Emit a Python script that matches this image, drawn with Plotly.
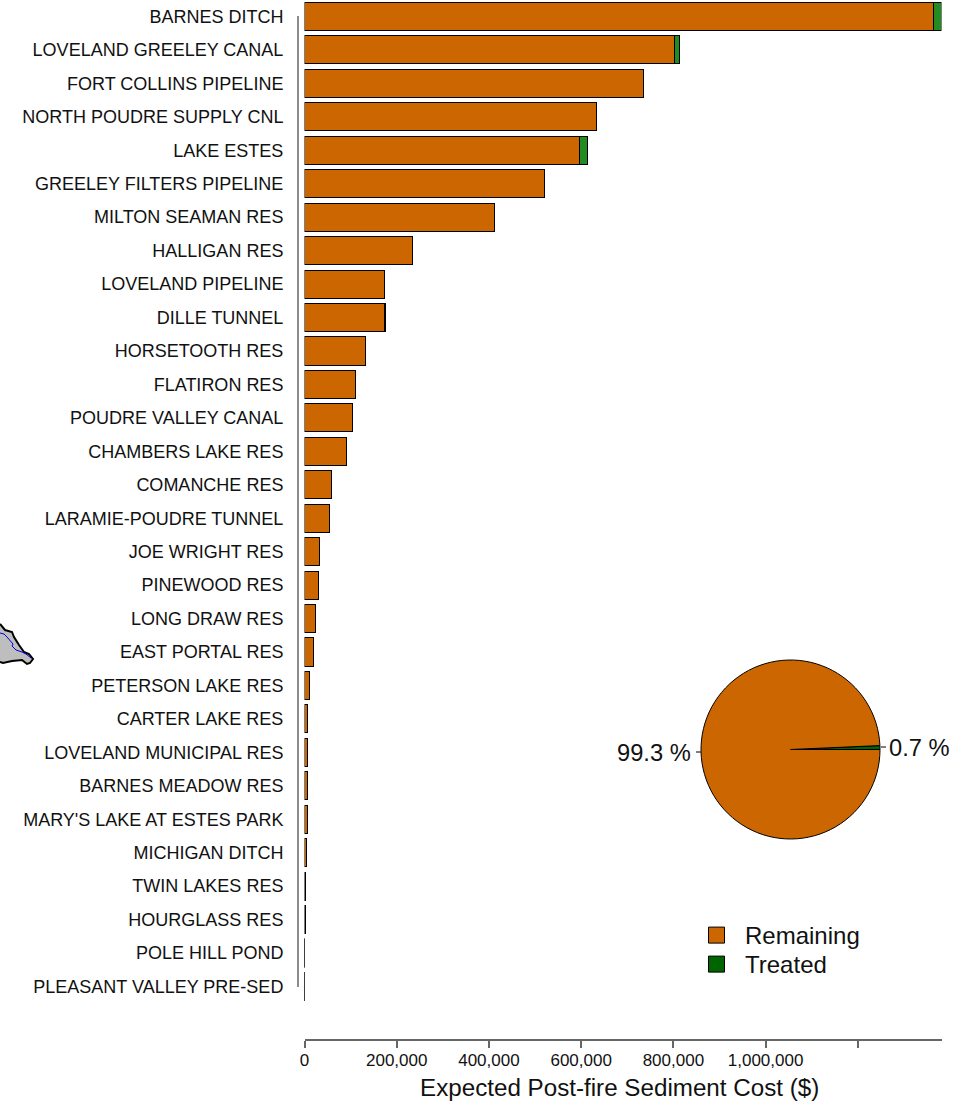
import plotly.graph_objects as go

W, H = 969, 1102
FONT = "Liberation Sans"

categories = ["BARNES DITCH", "LOVELAND GREELEY CANAL", "FORT COLLINS PIPELINE", "NORTH POUDRE SUPPLY CNL",
              "LAKE ESTES", "GREELEY FILTERS PIPELINE", "MILTON SEAMAN RES", "HALLIGAN RES", "LOVELAND PIPELINE",
              "DILLE TUNNEL", "HORSETOOTH RES", "FLATIRON RES", "POUDRE VALLEY CANAL", "CHAMBERS LAKE RES",
              "COMANCHE RES", "LARAMIE-POUDRE TUNNEL", "JOE WRIGHT RES", "PINEWOOD RES", "LONG DRAW RES",
              "EAST PORTAL RES", "PETERSON LAKE RES", "CARTER LAKE RES", "LOVELAND MUNICIPAL RES",
              "BARNES MEADOW RES", "MARY'S LAKE AT ESTES PARK", "MICHIGAN DITCH", "TWIN LAKES RES",
              "HOURGLASS RES", "POLE HILL POND", "PLEASANT VALLEY PRE-SED"]
remaining = [1365000, 803000, 736000, 634000, 597500, 521000, 413000, 235000, 173000, 174000,
             133000, 111000, 105000, 92000, 59000, 55000, 33000, 30000, 24000, 20000,
             10000, 6000, 6000, 6000, 6000, 3500, 3000, 3000, 500, 300]
treated = [16000, 10000, 0, 0, 17000, 0, 0, 0, 1000, 1000,
           0, 0, 0, 0, 0, 0, 0, 0, 0, 0,
           0, 0, 0, 0, 0, 0, 0, 0, 0, 0]
x_ticks = [0, 200000, 400000, 600000, 800000, 1000000, 1200000]
x_labels = ["0", "200,000", "400,000", "600,000", "800,000", "1,000,000", ""]
pie_labels = ["Treated", "Remaining"]
pie_values = [0.7, 99.3]
map_outline_x = [0, 5, 12, 14, 19, 24, 29, 33, 30, 27, 22, 12, 3, 0]
map_outline_y = [624, 630, 632, 637, 645, 652, 654, 659, 663, 664, 660, 661, 663, 662]
map_river_x = [0, 4, 7, 10, 13, 12, 16, 22, 26, 31]
map_river_y = [633, 634, 637, 640, 644, 646, 650, 652, 654, 658]

ORANGE = "#CC6600"
BAR_GREEN = "#228B22"
DARK_GREEN = "#006400"
GREY = "#666666"

px = lambda v: v / W
py = lambda v: 1 - v / H

fig = go.Figure()
fig.add_trace(go.Bar(y=categories, x=remaining, orientation="h", marker=dict(color=ORANGE, line=dict(color="black", width=1)),
                     showlegend=False))
fig.add_trace(go.Bar(y=categories, x=treated, orientation="h", marker=dict(color=BAR_GREEN, line=dict(color="black", width=1)),
                     showlegend=False))
fig.add_trace(go.Scatter(x=map_outline_x, y=map_outline_y, xaxis="x3", yaxis="y3", mode="lines", fill="toself",
                         fillcolor="#BEBEBE", line=dict(color="black", width=2), showlegend=False, hoverinfo="skip"))
fig.add_trace(go.Scatter(x=map_river_x, y=map_river_y, xaxis="x3", yaxis="y3", mode="lines",
                         line=dict(color="#0000E0", width=1), showlegend=False, hoverinfo="skip"))
fig.add_trace(go.Pie(labels=pie_labels, values=pie_values, sort=False, direction="clockwise", rotation=87.48,
                     marker=dict(colors=[DARK_GREEN, ORANGE], line=dict(color="black", width=1)),
                     textinfo="none", showlegend=False,
                     domain=dict(x=[px(701), px(880)], y=[py(839), py(660)])))
for name, col, leg in [("Remaining", ORANGE, "legend"), ("Treated", DARK_GREEN, "legend2")]:
    fig.add_trace(go.Scatter(x=[None], y=[None], mode="markers", name=name, legend=leg, showlegend=True,
                             marker=dict(symbol="square", size=16, color=col, line=dict(color="black", width=1))))

legend_style = dict(xanchor="left", yanchor="top", font=dict(size=24), itemwidth=47, bgcolor="rgba(0,0,0,0)")
fig.update_layout(
    width=W, height=H, autosize=False, margin=dict(l=0, r=0, t=0, b=0, pad=0),
    paper_bgcolor="white", plot_bgcolor="rgba(0,0,0,0)", barmode="stack", bargap=0.16,
    font=dict(family=FONT, color="#111111"),
    xaxis=dict(domain=[px(304.5), px(941.5)], range=[0, 1381600], anchor="free", position=py(1040),
               tickmode="array", tickvals=x_ticks, ticktext=x_labels, ticks="outside", ticklen=7, tickwidth=1.5,
               tickcolor=GREY, showline=True, linecolor=GREY, linewidth=1.5, showgrid=False, zeroline=False,
               tickfont=dict(size=17), automargin=False, ticklabelstandoff=-2),
    yaxis=dict(domain=[py(1003.2), 1], range=[29.5, -0.493], type="category", categoryorder="array",
               categoryarray=categories, anchor="free", position=px(298), side="left",
               showline=False, showgrid=False, zeroline=False, automargin=False,
               ticks="outside", ticklen=11, tickcolor="rgba(0,0,0,0)", tickmode="linear", dtick=1, tickfont=dict(size=18)),
    xaxis3=dict(domain=[0, 1], range=[0, W], visible=False, fixedrange=True, anchor="y3"),
    yaxis3=dict(domain=[0, 1], range=[H, 0], visible=False, fixedrange=True, anchor="x3"),
    legend=dict(x=px(688), y=py(913), **legend_style),
    legend2=dict(x=px(688), y=py(942), **legend_style),
    annotations=[
        dict(text="Expected Post-fire Sediment Cost ($)", x=px(619), y=py(1087), xref="paper", yref="paper",
             showarrow=False, font=dict(size=24.2), xanchor="center", yanchor="middle"),
        dict(text="99.3 %", x=px(693), y=py(753), xref="paper", yref="paper", showarrow=False,
             font=dict(size=23.7), xanchor="right", yanchor="middle"),
        dict(text="0.7 %", x=px(887), y=py(748), xref="paper", yref="paper", showarrow=False,
             font=dict(size=23.7), xanchor="left", yanchor="middle"),
    ],
    shapes=[
        dict(type="line", xref="paper", yref="paper", x0=px(298), x1=px(298), y0=py(16), y1=py(987), line=dict(color=GREY, width=1.5)),
        dict(type="line", xref="paper", yref="paper", x0=px(696), x1=px(701), y0=py(752), y1=py(752), line=dict(color="black", width=1)),
        dict(type="line", xref="paper", yref="paper", x0=px(881), x1=px(886), y0=py(747), y1=py(747), line=dict(color="black", width=1)),
    ],
)
fig.write_html("out.html", config=dict(displayModeBar=False),
               post_script="document.body.style.margin='0';document.body.style.overflow='hidden';")
